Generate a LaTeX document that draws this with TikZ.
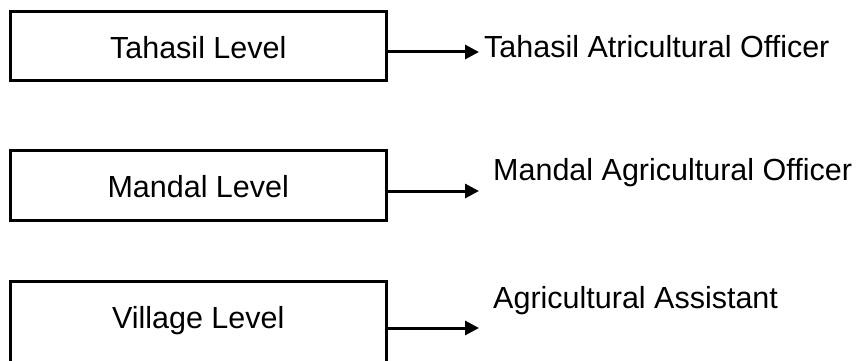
\documentclass[tikz,border=0pt]{standalone}
\usepackage{fontspec}
\setmainfont{Liberation Sans}
\usetikzlibrary{arrows.meta}
\begin{document}
\begin{tikzpicture}[x=1pt,y=1pt,
  levelbox/.style={draw=black, line width=3pt, minimum width=375.5pt,
    minimum height=69.5pt, inner sep=0pt, text height=24pt, text depth=0pt,
    font=\fontsize{30.5}{36}\selectfont},
  officer/.style={anchor=base west, inner sep=0pt,
    font=\fontsize{30.5}{36}\selectfont},
  arr/.style={line width=3pt, -{Triangle[length=14pt,width=14pt]}}]
\useasboundingbox (0,0) rectangle (863,-361);
\clip (0,0) rectangle (863,-361);

% level boxes
\node[levelbox] (tahasil) at (198.25,-46.25) {Tahasil Level};
\node[levelbox] (mandal) at (198.25,-185.25) {Mandal Level};
\node[levelbox, minimum height=114pt, text height=0pt, text depth=20pt]
  (village) at (198.25,-338) {Village Level};

% officers at each level
\node[officer] (tao) at (484,-58) {Tahasil Atricultural Officer};
\node[officer] (mao) at (493,-180) {Mandal Agricultural Officer};
\node[officer] (aa) at (493,-308) {Agricultural Assistant};

% arrow ends
\coordinate (e1) at (479,-52);
\coordinate (e2) at (479,-191);
\coordinate (e3) at (479,-328);

\draw[arr] (tahasil.east |- e1) -- (e1);
\draw[arr] (mandal.east |- e2) -- (e2);
\draw[arr] (village.east |- e3) -- (e3);
\end{tikzpicture}
\end{document}
